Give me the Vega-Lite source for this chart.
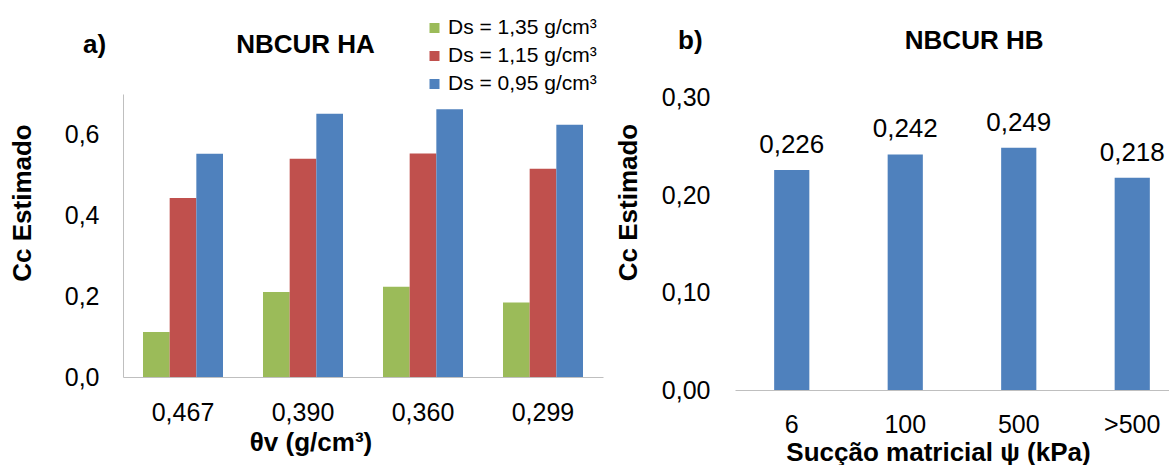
{
  "$schema": "https://vega.github.io/schema/vega-lite/v6.json",
  "background": "white",
  "padding": {"left": 9, "top": 17, "right": 0, "bottom": 0},
  "bounds": "flush",
  "spacing": 132,
  "config": {
    "font": "Liberation Sans",
    "locale": {"number": {"decimal": ",", "thousands": ".", "grouping": [3], "currency": ["", ""]}},
    "view": {"stroke": null},
    "axis": {
      "grid": false,
      "ticks": false,
      "tickSize": 0,
      "labelColor": "#000000",
      "titleColor": "#000000",
      "domainColor": "#BFBFBF",
      "domainWidth": 1,
      "labelFont": "Liberation Sans",
      "titleFont": "Liberation Sans",
      "labelFontSize": 25,
      "titleFontSize": 26,
      "titleFontWeight": "bold"
    },
    "title": {"font": "Liberation Sans", "fontSize": 26, "fontWeight": "bold", "color": "#000000"}
  },
  "hconcat": [
    {
      "width": 480,
      "height": 283,
      "title": {
        "text": "a)\u00a0\u00a0\u00a0\u00a0\u00a0\u00a0\u00a0\u00a0\u00a0\u00a0\u00a0\u00a0\u00a0\u00a0\u00a0\u00a0\u00a0\u00a0NBCUR HA",
        "anchor": "start",
        "frame": "group",
        "dx": -40,
        "offset": 15,
        "baseline": "alphabetic"
      },
      "data": {
        "values": [
          {"theta": "0,467", "ds": "Ds = 1,35 g/cm³", "cc": 0.111},
          {"theta": "0,467", "ds": "Ds = 1,15 g/cm³", "cc": 0.443},
          {"theta": "0,467", "ds": "Ds = 0,95 g/cm³", "cc": 0.552},
          {"theta": "0,390", "ds": "Ds = 1,35 g/cm³", "cc": 0.210},
          {"theta": "0,390", "ds": "Ds = 1,15 g/cm³", "cc": 0.540},
          {"theta": "0,390", "ds": "Ds = 0,95 g/cm³", "cc": 0.651},
          {"theta": "0,360", "ds": "Ds = 1,35 g/cm³", "cc": 0.223},
          {"theta": "0,360", "ds": "Ds = 1,15 g/cm³", "cc": 0.553},
          {"theta": "0,360", "ds": "Ds = 0,95 g/cm³", "cc": 0.662},
          {"theta": "0,299", "ds": "Ds = 1,35 g/cm³", "cc": 0.184},
          {"theta": "0,299", "ds": "Ds = 1,15 g/cm³", "cc": 0.515},
          {"theta": "0,299", "ds": "Ds = 0,95 g/cm³", "cc": 0.624}
        ]
      },
      "mark": {"type": "bar"},
      "encoding": {
        "x": {
          "field": "theta",
          "type": "nominal",
          "sort": null,
          "scale": {"paddingInner": 0.3333, "paddingOuter": 0.16667},
          "axis": {
            "title": "θv (g/cm³)",
            "labelAngle": 0,
            "labelPadding": 23,
            "titleX": 187.5,
            "titleY": 73.7,
            "titleAlign": "center",
            "titleBaseline": "alphabetic"
          }
        },
        "xOffset": {
          "field": "ds",
          "sort": ["Ds = 1,35 g/cm³", "Ds = 1,15 g/cm³", "Ds = 0,95 g/cm³"],
          "scale": {"paddingInner": 0, "paddingOuter": 0}
        },
        "y": {
          "field": "cc",
          "type": "quantitative",
          "scale": {"domain": [0, 0.7], "nice": false},
          "axis": {
            "title": "Cc Estimado",
            "values": [0, 0.2, 0.4, 0.6],
            "format": ".1f",
            "labelPadding": 24,
            "titleX": -92.7,
            "titleY": 108.5,
            "titleAngle": -90,
            "titleAlign": "center",
            "titleBaseline": "alphabetic"
          }
        },
        "color": {
          "field": "ds",
          "type": "nominal",
          "scale": {
            "domain": ["Ds = 1,35 g/cm³", "Ds = 1,15 g/cm³", "Ds = 0,95 g/cm³"],
            "range": ["#9BBB59", "#C0504D", "#4F81BD"]
          },
          "legend": {
            "orient": "none",
            "legendX": 301,
            "legendY": -76.5,
            "title": null,
            "padding": 0,
            "symbolType": "square",
            "symbolSize": 100,
            "symbolStrokeWidth": 0,
            "labelFontSize": 21,
            "labelColor": "#000000",
            "labelOffset": 3,
            "rowPadding": 6
          }
        }
      }
    },
    {
      "width": 454,
      "height": 296,
      "title": {
        "text": "b)\u00a0\u00a0\u00a0\u00a0\u00a0\u00a0\u00a0\u00a0\u00a0\u00a0\u00a0\u00a0\u00a0\u00a0\u00a0\u00a0\u00a0\u00a0\u00a0\u00a0\u00a0\u00a0\u00a0\u00a0\u00a0\u00a0\u00a0\u00a0NBCUR HB",
        "anchor": "start",
        "frame": "group",
        "dx": -57,
        "offset": 10.5,
        "baseline": "alphabetic"
      },
      "data": {
        "values": [
          {"psi": "6", "cc": 0.226},
          {"psi": "100", "cc": 0.242},
          {"psi": "500", "cc": 0.249},
          {"psi": ">500", "cc": 0.218}
        ]
      },
      "encoding": {
        "x": {
          "field": "psi",
          "type": "nominal",
          "sort": null,
          "scale": {"paddingInner": 0.69, "paddingOuter": 0.345},
          "axis": {
            "title": "Sucção matricial ψ (kPa)",
            "labelAngle": 0,
            "labelPadding": 22,
            "titleX": 203,
            "titleY": 70,
            "titleAlign": "center",
            "titleBaseline": "alphabetic"
          }
        },
        "y": {
          "field": "cc",
          "type": "quantitative",
          "scale": {"domain": [0, 0.3041], "nice": false},
          "axis": {
            "title": "Cc Estimado",
            "values": [0, 0.1, 0.2, 0.3],
            "format": ".2f",
            "domain": false,
            "labelPadding": 25,
            "titleX": -99,
            "titleY": 108,
            "titleAngle": -90,
            "titleAlign": "center",
            "titleBaseline": "alphabetic"
          }
        }
      },
      "layer": [
        {"mark": {"type": "bar", "color": "#4F81BD"}},
        {
          "mark": {"type": "text", "baseline": "alphabetic", "align": "center", "dy": -17, "fontSize": 26, "color": "#000000"},
          "encoding": {"text": {"field": "cc", "type": "quantitative", "format": ".3f"}}
        }
      ]
    }
  ]
}
